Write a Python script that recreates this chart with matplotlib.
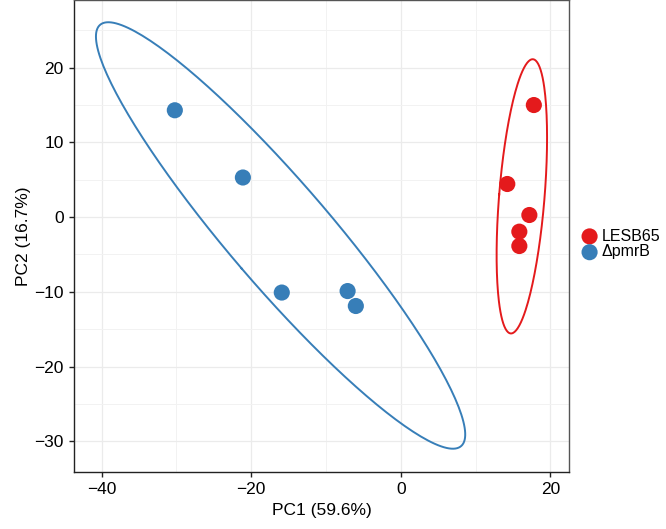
import numpy as np
import matplotlib
matplotlib.use("Agg")
import matplotlib.pyplot as plt
from matplotlib.ticker import MultipleLocator

plt.rcParams['font.family'] = ['Liberation Sans', 'DejaVu Sans']

# PCA scores
groups = ['LESB65', '\u0394pmrB']
colors = ['#E41A1C', '#377EB8']
lesb_pc1 = [17.8, 14.25, 17.2, 15.86, 15.86]
lesb_pc2 = [15.0, 4.43, 0.28, -1.95, -3.87]
pmrb_pc1 = [-30.2, -21.1, -15.9, -7.1, -6.0]
pmrb_pc2 = [14.3, 5.3, -10.1, -9.9, -11.9]
xlabel = 'PC1 (59.6%)'
ylabel = 'PC2 (16.7%)'

CHI2_95 = 5.991  # chi-square quantile, 2 df


def conf_ellipse(x, y, n=200):
    # 95% normal confidence ellipse from sample covariance
    pts = np.column_stack([x, y])
    mu = pts.mean(axis=0)
    cov = np.cov(pts, rowvar=False)
    vals, vecs = np.linalg.eigh(cov)
    t = np.linspace(0, 2 * np.pi, n)
    circ = np.column_stack([np.cos(t), np.sin(t)])
    e = circ * np.sqrt(vals * CHI2_95)
    e = e @ vecs.T + mu
    return e[:, 0], e[:, 1]


fig = plt.figure(figsize=(6.66, 5.29), dpi=100)
ax = fig.add_axes([74 / 666, 1 - 471.7 / 529, (569.3 - 74) / 666, 471.7 / 529])

data = [(lesb_pc1, lesb_pc2), (pmrb_pc1, pmrb_pc2)]
for (x, y), lab, c in zip(data, groups, colors):
    ex, ey = conf_ellipse(x, y)
    ax.plot(ex, ey, color=c, lw=1.4, zorder=2)
    ax.scatter(x, y, s=135, color=c, edgecolors='none', label=lab, zorder=3)

ax.set_xlim(-43.68, 22.54)
ax.set_ylim(-34.08, 29.06)
ax.xaxis.set_major_locator(MultipleLocator(20))
ax.xaxis.set_minor_locator(MultipleLocator(10))
ax.yaxis.set_major_locator(MultipleLocator(10))
ax.yaxis.set_minor_locator(MultipleLocator(5))

ax.grid(which='major', color='#EBEBEB', lw=0.9, zorder=0)
ax.grid(which='minor', color='#F2F2F2', lw=0.7, zorder=0)
ax.set_axisbelow(True)

for s in ax.spines.values():
    s.set_color('#555555')
    s.set_linewidth(1.0)
ax.spines['left'].set_color('#222222')
ax.spines['bottom'].set_color('#222222')

ax.tick_params(which='major', direction='out', length=3.5, width=1.0,
               color='#222222', labelsize=12.5, labelcolor='black', pad=4)
ax.tick_params(which='minor', length=0)

ax.set_xlabel(xlabel, fontsize=12.5, labelpad=4)
ax.set_ylabel(ylabel, fontsize=12.5, labelpad=2)

fig.legend(loc='center left', bbox_to_anchor=(572 / 666, 1 - 244 / 529),
           frameon=False, fontsize=11.5, handletextpad=0.05, labelspacing=0.05,
           borderaxespad=0, markerscale=1.0, handlelength=1.4)

fig.savefig('out.png', dpi=100)
